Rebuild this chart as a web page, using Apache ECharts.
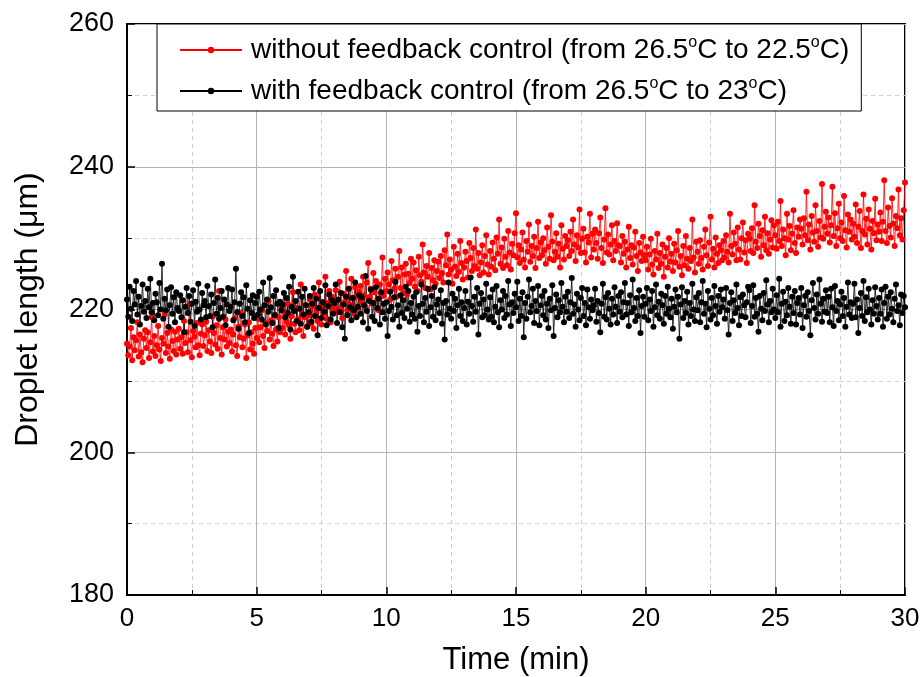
<!DOCTYPE html>
<html>
<head>
<meta charset="utf-8">
<script src="https://cdn.jsdelivr.net/npm/echarts@6/dist/echarts.min.js"></script>
<style>
html, body { margin: 0; padding: 0; background: #fff; }
#chart { width: 923px; height: 677px; }
</style>
</head>
<body>
<div id="chart"></div>
<script>
// sampling step of the recordings, minutes (3 s)
var step = 0.05;

// droplet length without feedback control (um), one row per minute
var withoutFeedback = [
    215.2, 213.6, 214.8, 217.4, 212.9, 216.1, 214.3, 215.7, 218.2, 213.4, 216.5, 214.0, 212.6, 215.9, 217.1, 214.6, 216.8, 213.2, 215.4, 218.9,
    214.1, 216.3, 213.5, 215.0, 217.7, 214.4, 212.8, 216.0, 215.2, 219.3, 213.9, 216.7, 214.8, 213.1, 217.2, 215.6, 214.2, 216.9, 213.7, 215.8,
    217.3, 214.5, 216.1, 213.8, 218.4, 215.3, 216.8, 214.0, 220.7, 215.7, 213.3, 217.0, 216.2, 214.7, 218.1, 215.0, 213.6, 216.6, 217.9, 214.9,
    216.4, 218.3, 214.2, 217.1, 215.5, 213.9, 219.0, 216.7, 215.1, 217.8, 214.5, 222.6, 216.0, 213.7, 217.5, 215.8, 218.6, 214.8, 216.9, 215.3,
    217.2, 214.1, 216.5, 218.8, 215.0, 213.5, 217.6, 216.1, 219.5, 214.7, 215.9, 217.9, 213.2, 216.4, 218.2, 214.4, 216.8, 215.2, 213.8, 217.4,
    216.0, 218.7, 215.4, 217.5, 219.9, 216.3, 214.6, 218.1, 217.0, 221.2, 215.8, 218.5, 216.6, 214.9, 219.3, 217.2, 215.5, 218.9, 216.8, 220.4,
    217.4, 219.7, 216.5, 218.3, 220.8, 217.8, 215.9, 219.1, 222.4, 218.0, 216.8, 220.2, 218.7, 217.1, 223.5, 219.4, 216.3, 218.9, 220.6, 217.6,
    219.2, 221.4, 218.0, 220.5, 217.3, 222.1, 219.7, 218.4, 223.8, 220.3, 217.9, 221.0, 219.5, 224.6, 218.7, 220.9, 222.6, 218.2, 221.8, 219.9,
    220.4, 222.7, 219.6, 221.3, 223.9, 220.1, 218.8, 222.2, 221.0, 225.4, 219.9, 222.9, 220.7, 224.3, 221.6, 219.4, 223.1, 221.8, 220.2, 222.5,
    223.3, 221.1, 224.6, 222.0, 220.3, 223.8, 226.5, 221.7, 222.9, 220.8, 225.1, 222.4, 224.0, 221.4, 219.9, 223.5, 222.2, 227.3, 221.9, 224.3,
    222.6, 225.2, 223.5, 221.4, 226.8, 224.1, 222.9, 225.7, 221.8, 224.6, 228.2, 223.0, 225.9, 222.3, 224.9, 226.4, 222.1, 225.0, 223.7, 227.1,
    224.3, 226.6, 223.2, 225.5, 222.6, 227.4, 224.8, 223.9, 229.1, 225.2, 223.0, 226.1, 224.6, 227.9, 222.8, 225.8, 224.1, 226.9, 223.6, 225.4,
    226.7, 224.4, 227.5, 225.1, 223.8, 228.3, 226.2, 230.5, 224.9, 227.0, 225.6, 223.6, 228.8, 226.0, 224.7, 227.8, 225.3, 229.6, 226.5, 224.2,
    225.9, 228.1, 226.8, 224.5, 229.3, 227.2, 225.4, 228.6, 226.1, 231.2, 225.7, 227.9, 224.8, 226.6, 229.0, 225.2, 227.5, 230.4, 226.3, 224.9,
    228.2, 226.0, 229.4, 227.1, 225.5, 230.1, 227.8, 232.6, 226.4, 228.7, 225.8, 229.9, 227.4, 226.2, 231.0, 228.0, 225.6, 229.2, 227.6, 230.7,
    233.5, 227.3, 229.0, 226.5, 228.4, 230.8, 227.0, 225.9, 229.6, 228.1, 231.9, 226.7, 228.9, 227.5, 230.2, 225.8, 228.6, 232.3, 227.2, 229.4,
    227.6, 230.0, 228.3, 226.4, 231.5, 228.8, 227.1, 233.2, 229.5, 226.9, 228.1, 230.7, 227.4, 229.2, 225.9, 231.8, 228.5, 227.0, 230.3, 228.9,
    229.7, 227.5, 230.9, 228.2, 232.6, 229.1, 226.8, 230.4, 228.7, 234.0, 227.9, 229.9, 231.3, 228.0, 226.6, 230.2, 229.4, 233.4, 227.3, 230.6,
    228.4, 231.2, 229.3, 227.1, 230.7, 232.9, 228.6, 226.5, 229.8, 234.2, 228.0, 230.5, 227.7, 229.1, 231.8, 226.9, 229.6, 228.2, 232.1, 229.0,
    228.9, 226.6, 230.3, 227.8, 229.5, 225.9, 228.4, 231.6, 227.2, 229.0, 226.3, 228.7, 230.9, 227.5, 225.4, 229.3, 228.0, 226.8, 230.2, 227.6,
    226.9, 228.8, 225.6, 227.7, 229.9, 226.3, 224.9, 228.2, 227.0, 230.6, 225.8, 227.9, 226.4, 229.1, 224.6, 227.4, 228.6, 225.9, 230.0, 226.7,
    227.8, 225.4, 229.2, 226.6, 228.3, 231.0, 226.0, 227.5, 224.8, 228.9, 226.2, 230.3, 227.1, 225.7, 228.6, 226.8, 232.6, 227.3, 225.2, 229.5,
    228.1, 226.4, 229.7, 227.2, 225.6, 228.8, 231.2, 227.6, 226.1, 229.4, 233.0, 227.0, 228.5, 225.9, 230.1, 227.8, 226.5, 229.0, 228.3, 226.9,
    229.6, 227.3, 230.4, 228.1, 226.6, 233.4, 228.9, 227.7, 230.8, 229.2, 226.9, 231.5, 228.4, 227.0, 230.0, 232.2, 228.0, 229.7, 226.5, 230.6,
    229.9, 228.2, 231.4, 227.9, 234.6, 229.5, 228.6, 232.0, 230.3, 227.4, 231.1, 229.0, 233.0, 228.3, 230.7, 227.8, 229.8, 232.5, 228.7, 231.8,
    230.4, 228.5, 232.3, 229.6, 235.2, 228.9, 231.2, 230.0, 227.6, 233.4, 229.8, 231.7, 228.3, 230.6, 233.9, 229.3, 227.9, 231.5, 230.2, 232.6,
    231.3, 229.1, 232.8, 230.4, 236.5, 229.7, 231.9, 228.4, 233.1, 230.8, 229.5, 234.6, 231.0, 228.8, 232.4, 230.1, 237.6, 229.9, 231.6, 233.7,
    230.6, 232.9, 229.4, 231.8, 237.2, 230.3, 233.5, 228.9, 231.4, 234.8, 230.0, 232.2, 229.6, 235.9, 231.1, 228.7, 233.3, 230.9, 232.6, 229.8,
    232.0, 230.2, 234.7, 229.3, 231.6, 233.8, 228.6, 231.0, 236.1, 230.5, 232.7, 229.1, 234.0, 231.3, 228.4, 232.4, 230.7, 235.5, 229.7, 231.9,
    230.9, 233.6, 229.6, 232.3, 238.1, 231.0, 229.3, 234.3, 231.7, 230.1, 235.6, 232.0, 228.9, 233.1, 231.4, 236.8, 230.4, 232.8, 229.8, 233.9,
    237.8
];

// droplet length with feedback control (um), one row per minute
var withFeedback = [
    221.4, 219.0, 223.2, 220.1, 218.4, 222.6, 220.7, 224.0, 219.3, 221.8, 217.9, 220.5, 223.5, 219.7, 221.2, 218.8, 222.9, 220.3, 224.3, 219.6,
    220.9, 218.5, 222.2, 221.0, 219.2, 223.7, 220.0, 226.4, 218.7, 221.5, 219.9, 222.8, 217.6, 220.6, 223.1, 219.4, 221.7, 218.2, 222.4, 220.2,
    219.8, 222.0, 218.9, 221.3, 216.8, 220.4, 223.0, 219.5, 221.9, 218.3, 220.8, 222.7, 217.7, 221.1, 219.7, 223.6, 220.0, 218.6, 222.3, 220.6,
    221.2, 218.9, 223.3, 220.5, 219.1, 222.1, 217.5, 220.9, 224.2, 219.4, 221.6, 218.7, 220.2, 222.6, 219.0, 221.4, 217.8, 220.7, 223.0, 219.8,
    220.4, 222.8, 218.5, 221.0, 225.7, 219.6, 217.3, 220.8, 222.4, 219.1, 221.7, 218.2, 223.4, 220.1, 216.7, 221.3, 219.5, 222.0, 218.8, 220.9,
    221.8, 219.3, 222.5, 220.0, 218.6, 223.8, 220.6, 217.9, 221.4, 219.7, 224.4, 220.3, 218.1, 221.9, 219.2, 222.7, 220.8, 217.4, 221.1, 219.9,
    220.7, 222.3, 218.9, 221.6, 219.5, 223.2, 217.2, 220.4, 224.6, 219.8, 221.2, 218.4, 222.5, 220.1, 218.0, 221.8, 219.3, 222.9, 220.6, 217.6,
    219.6, 221.9, 218.3, 220.8, 223.0, 219.1, 221.5, 216.4, 220.2, 222.6, 218.8, 221.0, 219.7, 223.4, 217.8, 220.5, 222.1, 218.6, 221.3, 219.4,
    220.9, 223.5, 218.1, 221.4, 219.6, 222.3, 217.5, 220.7, 215.9, 221.8, 219.2, 222.9, 220.3, 218.5, 221.6, 219.9, 223.8, 218.9, 220.4, 222.0,
    219.4, 221.7, 218.2, 220.6, 224.7, 219.8, 217.3, 221.2, 222.8, 219.0, 220.9, 218.4, 223.1, 220.2, 221.5, 217.9, 222.4, 219.6, 220.8, 218.7,
    221.0, 216.3, 219.8, 222.5, 220.4, 218.6, 221.7, 223.9, 219.2, 220.6, 217.6, 222.0, 219.5, 221.3, 218.8, 223.2, 220.1, 222.6, 218.3, 220.9,
    219.3, 221.8, 218.7, 222.4, 216.9, 220.5, 219.1, 223.5, 220.8, 218.2, 221.6, 219.7, 222.9, 217.7, 220.3, 221.9, 219.0, 223.1, 218.5, 220.7,
    221.4, 219.5, 222.7, 218.0, 220.9, 215.8, 221.2, 219.3, 223.8, 220.1, 218.7, 222.2, 219.8, 221.5, 217.4, 220.6, 222.9, 219.1, 221.0, 218.4,
    220.2, 222.6, 217.9, 221.1, 219.4, 224.5, 220.5, 218.3, 221.8, 219.7, 223.0, 216.5, 220.8, 222.3, 218.9, 221.4, 219.2, 223.6, 220.0, 218.6,
    221.7, 219.0, 222.8, 218.2, 220.4, 223.3, 219.6, 217.5, 221.3, 220.0, 222.6, 218.8, 221.9, 219.3, 224.0, 220.7, 217.7, 221.0, 219.5, 222.2,
    220.3, 223.9, 218.4, 221.5, 219.1, 222.4, 216.1, 220.9, 218.7, 221.8, 224.2, 219.6, 220.5, 222.9, 218.1, 221.2, 219.8, 223.3, 217.8, 220.6,
    221.9, 219.2, 222.6, 218.6, 220.8, 217.4, 221.5, 219.9, 223.4, 216.3, 220.2, 222.1, 218.9, 221.3, 219.6, 223.7, 220.4, 218.2, 221.8, 219.7,
    222.5, 218.8, 221.0, 224.4, 219.4, 220.7, 217.6, 222.2, 220.0, 218.5, 221.6, 223.0, 219.1, 220.9, 217.8, 222.8, 220.3, 218.7, 221.4, 219.9,
    220.6, 222.9, 218.3, 221.2, 219.5, 216.8, 220.8, 223.6, 219.0, 221.7, 218.6, 222.3, 220.1, 217.9, 221.5, 219.3, 223.1, 220.4, 218.1, 221.9,
    219.7, 222.4, 218.9, 221.0, 223.7, 219.3, 220.9, 217.7, 222.0, 219.6, 224.2, 220.2, 218.4, 221.6, 219.1, 222.7, 216.7, 220.5, 221.8, 219.0,
    220.8, 223.0, 218.5, 221.4, 219.8, 222.6, 217.6, 220.3, 223.5, 219.2, 221.1, 218.7, 222.2, 220.6, 218.0, 221.9, 219.4, 223.2, 220.1, 218.9,
    221.5, 217.3, 220.4, 222.8, 219.6, 221.8, 215.9, 220.7, 223.1, 218.8, 221.2, 219.5, 222.5, 217.9, 220.9, 219.1, 223.6, 220.0, 218.4, 221.7,
    219.9, 222.3, 218.2, 221.0, 224.0, 219.4, 220.8, 217.5, 222.6, 220.1, 218.6, 221.6, 219.2, 223.3, 220.5, 218.0, 221.9, 219.7, 222.8, 220.3,
    221.4, 218.7, 223.0, 219.9, 216.5, 220.9, 222.4, 218.4, 221.3, 219.5, 223.5, 220.2, 217.8, 221.7, 219.1, 222.1, 220.6, 218.9, 221.0, 223.2,
    222.7, 218.1, 220.5, 223.4, 219.0, 221.6, 219.4, 216.9, 221.9, 220.1, 218.5, 222.3, 219.8, 224.1, 220.7, 218.2, 221.2, 219.6, 222.9, 220.0,
    218.8, 222.0, 219.6, 224.3, 217.6, 220.8, 222.5, 218.4, 221.1, 219.2, 223.0, 220.4, 218.0, 221.8, 219.5, 222.6, 217.9, 220.9, 221.6, 219.3,
    223.0, 217.4, 220.6, 221.9, 219.0, 222.4, 219.8, 216.4, 221.3, 223.7, 220.2, 218.6, 222.1, 219.4, 224.2, 220.8, 218.3, 221.5, 219.7, 222.7,
    219.5, 221.8, 218.2, 222.9, 220.3, 217.7, 223.3, 219.8, 221.2, 218.5, 220.7, 222.5, 219.1, 221.6, 217.6, 220.4, 223.8, 219.3, 221.0, 218.8,
    220.8, 223.6, 218.9, 221.4, 216.7, 220.2, 222.3, 219.1, 224.0, 218.4, 221.7, 219.6, 222.9, 220.0, 217.9, 221.3, 219.4, 223.1, 220.5, 218.6,
    221.6, 219.4, 222.8, 217.6, 220.9, 223.2, 218.7, 221.8, 219.3, 222.4, 220.1, 218.2, 221.5, 223.5, 219.8, 220.6, 217.8, 222.1, 219.5, 221.9,
    220.3
];

var seriesNames = [
    'without feedback control (from 26.5{sup|o}C to 22.5{sup|o}C)',
    'with feedback control (from 26.5{sup|o}C to 23{sup|o}C)'
];

function toPairs(values) {
    return values.map(function (v, i) {
        return [+(i * step).toFixed(2), v];
    });
}

var font = 'Liberation Sans, Arial, sans-serif';
var myChart = echarts.init(document.getElementById('chart'), null, { renderer: 'canvas' });

var option = {
    animation: false,
    backgroundColor: '#fff',
    grid: {
        left: 127, right: 18, top: 24, bottom: 82,
        show: true, borderColor: '#000', borderWidth: 2,
        outerBoundsMode: 'none'
    },
    legend: {
        orient: 'vertical',
        left: 157, top: 24,
        padding: [10, 12, 4, 22],
        itemGap: 9,
        itemWidth: 62, itemHeight: 8,
        backgroundColor: '#fff',
        borderColor: '#000', borderWidth: 1,
        textStyle: {
            fontFamily: font, fontSize: 28, color: '#000', lineHeight: 32,
            padding: [0, 0, 0, 4],
            rich: {
                sup: { fontFamily: font, fontSize: 16, color: '#000', lineHeight: 32, padding: [0, 0, 14, 0] }
            }
        }
    },
    xAxis: {
        type: 'value', min: 0, max: 30, interval: 5,
        name: 'Time (min)', nameLocation: 'middle', nameGap: 50,
        nameTextStyle: { fontFamily: font, fontSize: 31, color: '#000' },
        axisLine: { show: true, lineStyle: { color: '#000', width: 2 } },
        axisTick: { show: true, inside: true, length: 8, lineStyle: { color: '#000', width: 1.5 } },
        minorTick: { show: true, splitNumber: 2, length: 5, lineStyle: { color: '#000', width: 1 } },
        axisLabel: { fontFamily: font, fontSize: 26, color: '#000', margin: 11 },
        splitLine: { show: true, lineStyle: { color: '#b4b4b4', width: 1 } },
        minorSplitLine: { show: true, lineStyle: { color: '#cfcfcf', width: 1, type: [4, 4] } }
    },
    yAxis: {
        type: 'value', min: 180, max: 260, interval: 20,
        name: 'Droplet length (\u03bcm)', nameLocation: 'middle', nameGap: 83,
        nameTextStyle: { fontFamily: font, fontSize: 32, color: '#000' },
        axisLine: { show: true, lineStyle: { color: '#000', width: 2 } },
        axisTick: { show: true, inside: true, length: 8, lineStyle: { color: '#000', width: 1.5 } },
        minorTick: { show: true, splitNumber: 2, length: 5, lineStyle: { color: '#000', width: 1 } },
        axisLabel: { fontFamily: font, fontSize: 27, color: '#000', margin: 13 },
        splitLine: { show: true, lineStyle: { color: '#b4b4b4', width: 1 } },
        minorSplitLine: { show: true, lineStyle: { color: '#cfcfcf', width: 1, type: [4, 4] } }
    },
    series: [
        {
            name: seriesNames[0], type: 'line',
            data: toPairs(withoutFeedback),
            symbol: 'circle', symbolSize: 6, showSymbol: true,
            itemStyle: { color: '#ff0000' },
            lineStyle: { color: '#ff0000', width: 0.8 }
        },
        {
            name: seriesNames[1], type: 'line',
            data: toPairs(withFeedback),
            symbol: 'circle', symbolSize: 6, showSymbol: true,
            itemStyle: { color: '#000' },
            lineStyle: { color: '#000', width: 0.8 }
        }
    ]
};

myChart.setOption(option);
</script>
</body>
</html>
